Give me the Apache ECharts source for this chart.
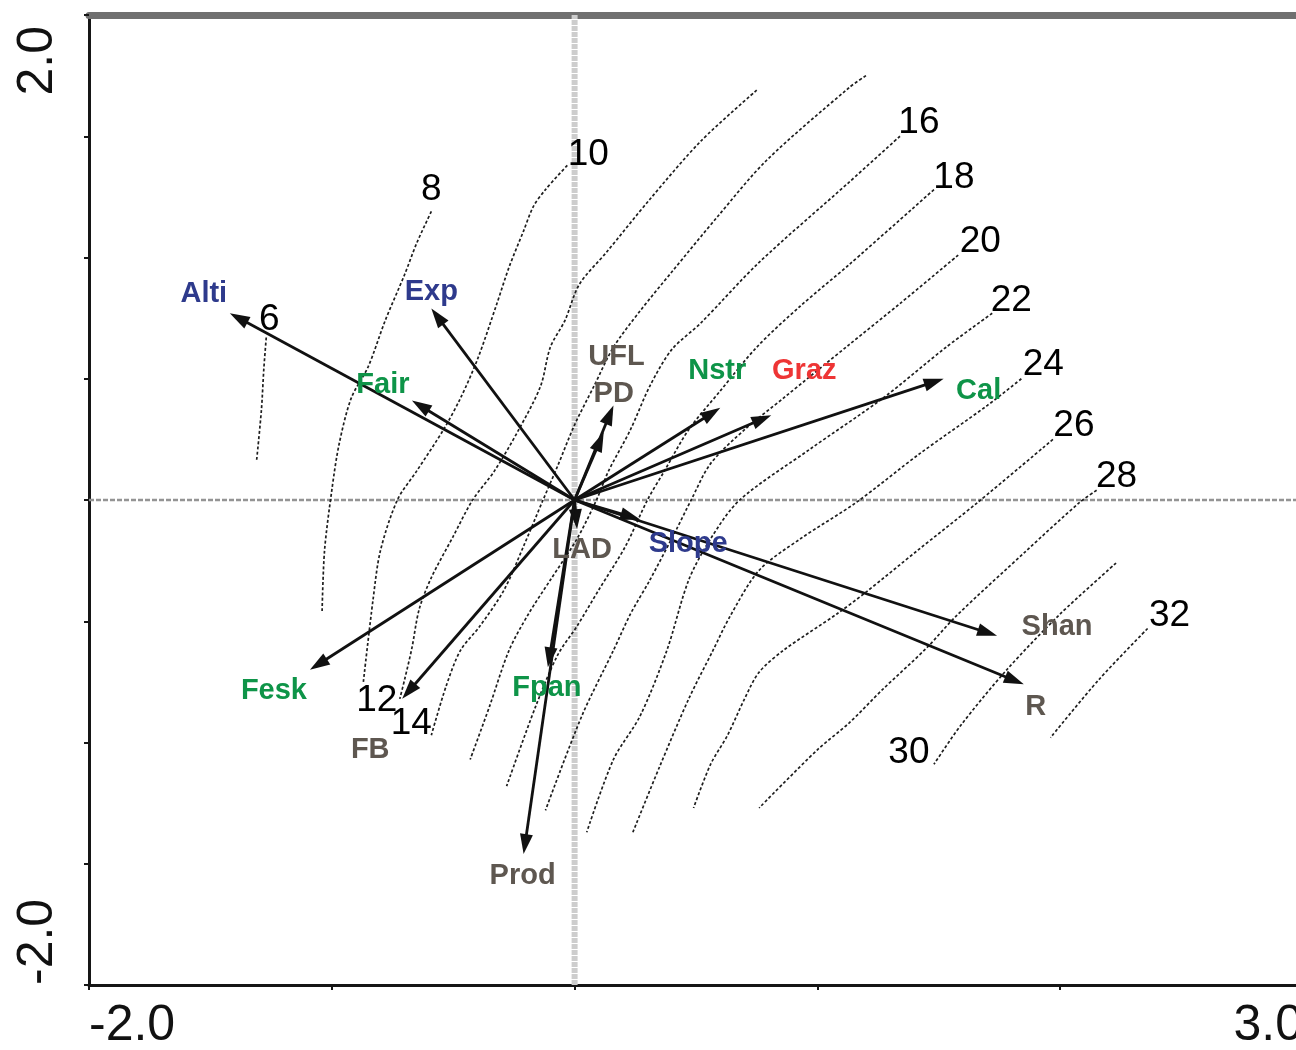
<!DOCTYPE html>
<html><head><meta charset="utf-8">
<script src="https://cdn.jsdelivr.net/npm/echarts@6/dist/echarts.min.js"></script>
<style>html,body{margin:0;padding:0;background:#fff}#c{width:1296px;height:1050px}</style>
</head><body><div id="c"></div>
<script>
// ---- axis ranges and tick labels ----
const xRange = [-2, 3];
const yRange = [-2, 2];
const xTickValues = [-2, 3];
const xTickText = ['-2.0', '3.0'];
const yTickValues = [2, -2];
const yTickText = ['2.0', '-2.0'];

// ---- biplot vectors (arrow tips) ----
const arrowNames = ['Alti','Exp','Fair','UFL','PD','Nstr','Graz','Cal','Slope','Shan','R','LAD','Fpan','Prod','Fesk','FB'];
const arrowX = [-1.42,-0.59,-0.67,0.16,0.12,0.60,0.81,1.52,0.27,1.74,1.85,0.01,-0.11,-0.21,-1.09,-0.71];
const arrowY = [0.77,0.79,0.41,0.39,0.28,0.38,0.35,0.50,-0.08,-0.56,-0.76,-0.12,-0.69,-1.46,-0.70,-0.82];
const arrowGroup = ['topo','topo','veg','fod','fod','veg','graz','veg','topo','fod','fod','fod','veg','fod','veg','fod'];

// ---- contour lines (isolines of fitted surface) ----
const contourLevels = [6,8,10,12,14,16,18,20,22,24,26,28,30,32];
const c6 = [[-1.27,0.67],[-1.28,0.54],[-1.29,0.37],[-1.31,0.16]];
const c8 = [[-0.59,1.19],[-0.65,1.06],[-0.70,0.93],[-0.78,0.74],[-0.85,0.55],[-0.92,0.42],[-0.97,0.23],[-1.00,0.04],[-1.03,-0.21],[-1.04,-0.46]];
const c10 = [[-0.03,1.38],[-0.12,1.28],[-0.17,1.21],[-0.21,1.11],[-0.27,0.96],[-0.32,0.81],[-0.40,0.58],[-0.47,0.42],[-0.54,0.29],[-0.65,0.12],[-0.73,0.00],[-0.80,-0.21],[-0.83,-0.41],[-0.87,-0.75]];
const c12 = [[0.75,1.69],[0.52,1.48],[0.31,1.24],[0.13,1.02],[0.02,0.89],[-0.04,0.74],[-0.10,0.63],[-0.14,0.47],[-0.23,0.29],[-0.33,0.12],[-0.42,0.00],[-0.50,-0.15],[-0.59,-0.32],[-0.64,-0.45],[-0.67,-0.61],[-0.70,-0.74],[-0.72,-0.82]];
const c14 = [[1.20,1.75],[1.13,1.70],[0.79,1.40],[0.59,1.17],[0.40,0.94],[0.27,0.78],[0.16,0.63],[0.08,0.47],[0.00,0.31],[-0.07,0.14],[-0.13,0.00],[-0.21,-0.19],[-0.29,-0.37],[-0.39,-0.52],[-0.47,-0.62],[-0.53,-0.77],[-0.59,-0.97]];
const c16 = [[1.34,1.50],[1.13,1.31],[0.76,0.98],[0.52,0.73],[0.40,0.62],[0.31,0.47],[0.23,0.29],[0.14,0.12],[0.09,0.00],[0.01,-0.16],[-0.10,-0.33],[-0.19,-0.47],[-0.27,-0.62],[-0.35,-0.85],[-0.43,-1.07]];
const c18 = [[1.48,1.28],[1.13,0.97],[0.93,0.80],[0.75,0.63],[0.60,0.45],[0.47,0.29],[0.37,0.12],[0.30,0.00],[0.21,-0.19],[0.10,-0.37],[0.01,-0.52],[-0.07,-0.64],[-0.16,-0.85],[-0.28,-1.18]];
const c20 = [[1.58,1.01],[1.34,0.81],[1.13,0.64],[0.86,0.42],[0.70,0.29],[0.56,0.15],[0.48,0.00],[0.42,-0.12],[0.31,-0.33],[0.23,-0.47],[0.16,-0.62],[0.03,-0.89],[-0.12,-1.28]];
const c22 = [[1.72,0.77],[1.53,0.63],[1.27,0.42],[0.97,0.21],[0.68,0.00],[0.56,-0.16],[0.47,-0.33],[0.38,-0.62],[0.27,-0.89],[0.16,-1.07],[0.05,-1.37]];
const c24 = [[1.84,0.50],[1.70,0.39],[1.42,0.19],[1.16,-0.01],[0.93,-0.16],[0.76,-0.29],[0.64,-0.48],[0.57,-0.62],[0.47,-0.82],[0.35,-1.10],[0.24,-1.37]];
const c26 = [[1.97,0.25],[1.66,-0.01],[1.41,-0.21],[1.20,-0.38],[1.08,-0.47],[0.86,-0.62],[0.76,-0.71],[0.70,-0.82],[0.63,-0.97],[0.56,-1.09],[0.49,-1.27]];
const c28 = [[2.15,0.04],[2.08,-0.01],[1.86,-0.21],[1.57,-0.48],[1.45,-0.61],[1.27,-0.78],[1.13,-0.92],[1.00,-1.03],[0.76,-1.27]];
const c30 = [[2.23,-0.26],[2.00,-0.47],[1.78,-0.70],[1.59,-0.93],[1.48,-1.09]];
const c32 = [[2.36,-0.53],[2.16,-0.74],[1.96,-0.98]];
const contourLines = [c6,c8,c10,c12,c14,c16,c18,c20,c22,c24,c26,c28,c30,c32];

// ---- layout / style (not data) ----
const groupColor = {topo:'#2e3a8c', veg:'#0e9448', graz:'#ee3535', fod:'#5e5750'};
const arrowLabelOffset = {
  Alti:[-26,-19], Exp:[0,-16], Fair:[-29,-16], UFL:[3,-48], PD:[10,-38], Nstr:[-3,-37],
  Graz:[33,-44], Cal:[35,12], Slope:[48,25], Shan:[60,-9], R:[12,23], LAD:[5,21],
  Fpan:[-1,21], Prod:[-1,22], Fesk:[-36,21], FB:[-32,51]
};
const contourLabelAtEnd = {12:true, 14:true, 30:true};
const contourLabelOffset = {
  6:[3,-18], 8:[0,-22], 10:[21,-11], 12:[-23,2], 14:[-20,-11], 16:[19,-13], 18:[20,-12],
  20:[22,-13], 22:[19,-12], 24:[22,-14], 26:[21,-14], 28:[20,-14], 30:[-25,-12], 32:[22,-13]
};
const FONT = '"Liberation Sans", Arial, Helvetica, sans-serif';

const chart = echarts.init(document.getElementById('c'), null, {renderer:'canvas'});

const series = [];
// zero reference lines
series.push({type:'line', silent:true, symbol:'none', z:1,
  data:[[xRange[0],0],[xRange[1],0]],
  lineStyle:{color:'#949494', width:2.5, type:[5,2]}});
series.push({type:'line', silent:true, symbol:'none', z:1,
  data:[[0,yRange[0]],[0,yRange[1]]],
  lineStyle:{color:'#cdcdcd', width:6, type:[5,1]}});

// contour lines
contourLines.forEach((pts, k) => {
  series.push({type:'line', silent:true, symbol:'none', z:2, smooth:0.3,
    data: pts,
    lineStyle:{color:'#1e1e1e', width:1.7, type:[3,2.2]}});
});

// contour labels
const contourLabelData = contourLevels.map((lv, k) => {
  const pts = contourLines[k];
  const p = contourLabelAtEnd[lv] ? pts[pts.length-1] : pts[0];
  return [p[0], p[1], lv];
});
series.push({type:'custom', silent:true, z:5, data: contourLabelData,
  renderItem: (params, api) => {
    const lv = api.value(2);
    const p = api.coord([api.value(0), api.value(1)]);
    const off = contourLabelOffset[lv];
    return {type:'text', x:p[0]+off[0], y:p[1]+off[1],
      style:{text:String(lv), fill:'#000', fontSize:37, fontFamily:FONT, align:'center', verticalAlign:'middle'}};
  }});

// arrows
const arrowData = arrowNames.map((n,i) => [arrowX[i], arrowY[i]]);
series.push({type:'custom', silent:true, z:6, data: arrowData,
  renderItem: (params, api) => {
    const o = api.coord([0,0]);
    const t = api.coord([api.value(0), api.value(1)]);
    const dx = t[0]-o[0], dy = t[1]-o[1];
    const L = Math.hypot(dx, dy);
    const ux = dx/L, uy = dy/L;
    const hl = Math.min(20, L*0.8), hw = 6.5;
    const bx = t[0]-ux*hl, by = t[1]-uy*hl;
    return {type:'group', children:[
      {type:'line', shape:{x1:o[0], y1:o[1], x2:bx+ux*2, y2:by+uy*2}, style:{stroke:'#111', lineWidth:2.8}},
      {type:'polygon', shape:{points:[[t[0],t[1]],[bx-uy*hw, by+ux*hw],[bx+uy*hw, by-ux*hw]]}, style:{fill:'#111'}}
    ]};
  }});
// arrow labels
series.push({type:'custom', silent:true, z:7, data: arrowData,
  renderItem: (params, api) => {
    const i = params.dataIndex;
    const t = api.coord([api.value(0), api.value(1)]);
    const name = arrowNames[i];
    const off = arrowLabelOffset[name];
    return {type:'text', x:t[0]+off[0], y:t[1]+off[1],
      style:{text:name, fill:groupColor[arrowGroup[i]], fontSize:29, fontWeight:'bold', fontFamily:FONT,
        align:'center', verticalAlign:'middle'}};
  }});

const fmtX = v => { const i = xTickValues.indexOf(v); return i >= 0 ? xTickText[i] : ''; };
const fmtY = v => {
  const i = yTickValues.indexOf(v);
  if (i < 0) return '';
  return v === yRange[1] ? '{top|' + yTickText[i] + '}' : yTickText[i];
};

chart.setOption({
  animation:false,
  backgroundColor:'#fff',
  grid:{left:89, top:15, right:-7, bottom:65, containLabel:false, outerBoundsMode:'none'},
  xAxis:[{
    type:'value', min:xRange[0], max:xRange[1], interval:1, position:'bottom',
    axisLine:{show:true, onZero:false, lineStyle:{color:'#161616', width:3}},
    axisTick:{show:true, length:5, lineStyle:{color:'#161616', width:2}},
    splitLine:{show:false},
    axisLabel:{show:true, formatter:fmtX, fontSize:50, fontFamily:FONT, color:'#111', margin:16,
      alignMinLabel:'left', alignMaxLabel:'right'}
  },{
    type:'value', min:xRange[0], max:xRange[1], position:'top',
    axisLine:{show:true, onZero:false, lineStyle:{color:'#707070', width:7}},
    axisTick:{show:false}, axisLabel:{show:false}, splitLine:{show:false}
  }],
  yAxis:{
    type:'value', min:yRange[0], max:yRange[1], interval:0.5,
    axisLine:{show:true, onZero:false, lineStyle:{color:'#161616', width:3}},
    axisTick:{show:true, length:5, lineStyle:{color:'#161616', width:2}},
    splitLine:{show:false},
    axisLabel:{show:true, formatter:fmtY, rotate:90, fontSize:50, fontFamily:FONT, color:'#111', margin:26,
      alignMinLabel:'left', alignMaxLabel:'right',
      rich:{top:{fontSize:50, fontFamily:FONT, color:'#111', padding:[0,11,0,0]}}}
  },
  series: series
});
</script></body></html>
